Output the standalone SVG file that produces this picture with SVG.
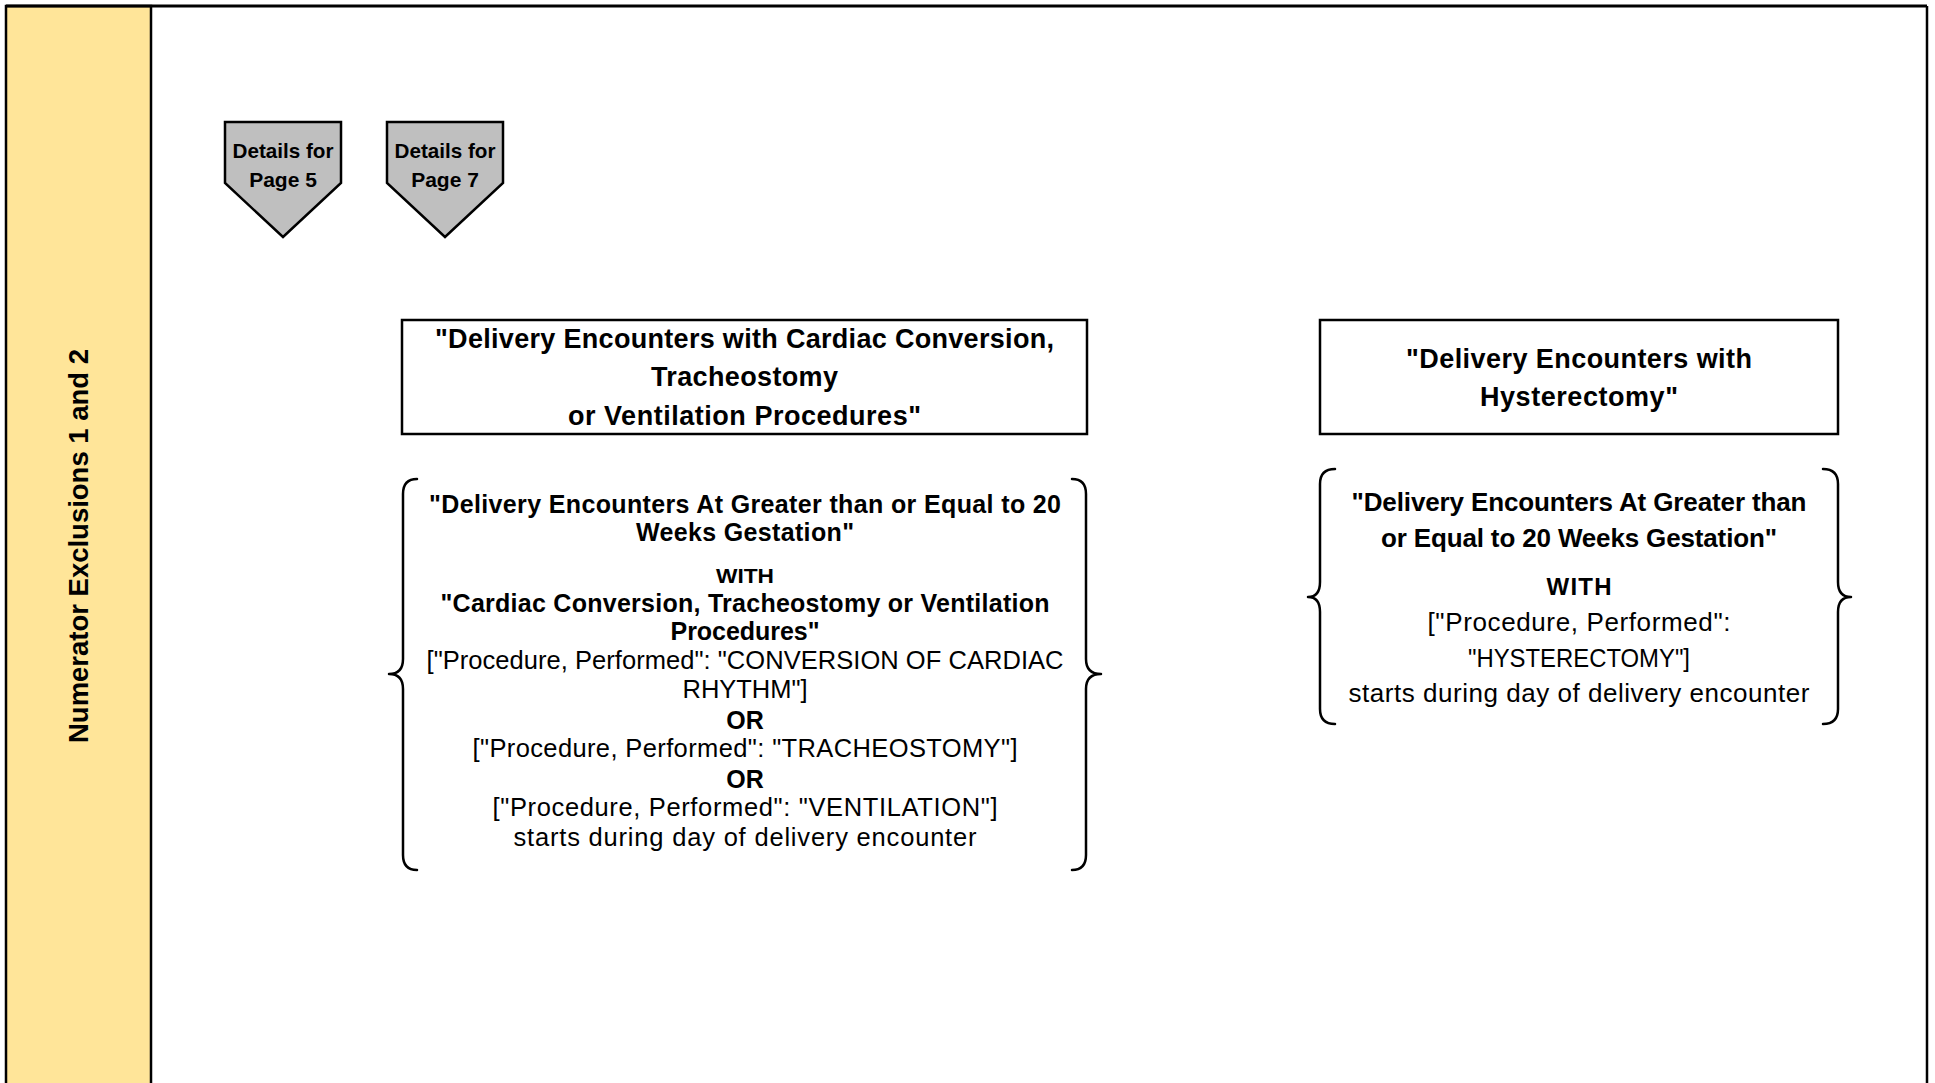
<svg xmlns="http://www.w3.org/2000/svg" width="1935" height="1083" viewBox="0 0 1935 1083">
  <style>
    .b { font-family: "Liberation Sans", Arial, sans-serif; font-weight: bold; fill: #000; text-anchor: middle; }
    .r { font-family: "Liberation Sans", Arial, sans-serif; font-weight: normal; fill: #000; text-anchor: middle; }
    .box { fill: #fff; stroke: #000; stroke-width: 2.5; }
    .brace { fill: none; stroke: #000; stroke-width: 2.5; stroke-linejoin: round; stroke-linecap: round; }
    .ref { fill: #BFBFBF; stroke: #000; stroke-width: 2.5; stroke-linejoin: miter; }
  </style>

  <rect x="0" y="0" width="1935" height="1083" fill="#fff"/>

  <!-- swimlane frame -->
  <g id="lane">
    <rect x="6" y="6" width="145" height="1085" fill="#FFE599" stroke="#000" stroke-width="2.5"/>
    <line x1="6" y1="6" x2="1927" y2="6" stroke="#000" stroke-width="3"/>
    <line x1="1927" y1="6" x2="1927" y2="1083" stroke="#000" stroke-width="2.5"/>
    <text class="b" font-size="27" textLength="394" lengthAdjust="spacingAndGlyphs" transform="translate(88 546) rotate(-90)">Numerator Exclusions 1 and 2</text>
  </g>

  <!-- off-page references -->
  <g id="ref-page5">
    <polygon class="ref" points="225,122 341,122 341,183 283,237 225,183"/>
    <text class="b" font-size="21" x="283" y="158" textLength="101" lengthAdjust="spacingAndGlyphs">Details for</text>
    <text class="b" font-size="21" x="283" y="187">Page 5</text>
  </g>
  <g id="ref-page7">
    <polygon class="ref" points="387,122 503,122 503,183 445,237 387,183"/>
    <text class="b" font-size="21" x="445" y="158" textLength="101" lengthAdjust="spacingAndGlyphs">Details for</text>
    <text class="b" font-size="21" x="445" y="187">Page 7</text>
  </g>

  <!-- definition header boxes -->
  <g id="def-cardiac">
    <rect class="box" x="402" y="320" width="685" height="114"/>
    <text class="b" font-size="27" x="744.5" y="348" textLength="619">"Delivery Encounters with Cardiac Conversion,</text>
    <text class="b" font-size="27" x="744.5" y="386" textLength="187">Tracheostomy</text>
    <text class="b" font-size="27" x="744.5" y="425" textLength="353">or Ventilation Procedures"</text>
  </g>
  <g id="def-hysterectomy">
    <rect class="box" x="1320" y="320" width="518" height="114"/>
    <text class="b" font-size="27" x="1579" y="368" textLength="346">"Delivery Encounters with</text>
    <text class="b" font-size="27" x="1579" y="406" textLength="198">Hysterectomy"</text>
  </g>

  <!-- logic blocks -->
  <g id="logic-cardiac">
    <path class="brace" d="M417,479 Q403,479 403,494 L403,659 Q403,674 389,674 Q403,674 403,689 L403,855 Q403,870 417,870"/>
    <path class="brace" d="M1072,479 Q1086,479 1086,494 L1086,659 Q1086,674 1101,674 Q1086,674 1086,689 L1086,855 Q1086,870 1072,870"/>
    <text class="b" font-size="25" x="745" y="513" textLength="632">"Delivery Encounters At Greater than or Equal to 20</text>
    <text class="b" font-size="25" x="745" y="541" textLength="218">Weeks Gestation"</text>
    <text class="b" font-size="21" x="745" y="583" textLength="58" lengthAdjust="spacingAndGlyphs">WITH</text>
    <text class="b" font-size="25" x="745" y="612" textLength="609">"Cardiac Conversion, Tracheostomy or Ventilation</text>
    <text class="b" font-size="25" x="745" y="640" textLength="149">Procedures"</text>
    <text class="r" font-size="25.5" x="745" y="669" textLength="637">["Procedure, Performed": "CONVERSION OF CARDIAC</text>
    <text class="r" font-size="25.5" x="745" y="698" textLength="125">RHYTHM"]</text>
    <text class="b" font-size="25" x="745" y="729">OR</text>
    <text class="r" font-size="25.5" x="745" y="757" textLength="545">["Procedure, Performed": "TRACHEOSTOMY"]</text>
    <text class="b" font-size="25" x="745" y="788">OR</text>
    <text class="r" font-size="25.5" x="745" y="816" textLength="505">["Procedure, Performed": "VENTILATION"]</text>
    <text class="r" font-size="25.5" x="745" y="846" textLength="463">starts during day of delivery encounter</text>
  </g>
  <g id="logic-hysterectomy">
    <path class="brace" d="M1335,469 Q1320,469 1320,484 L1320,582 Q1320,597 1308,597 Q1320,597 1320,612 L1320,709 Q1320,724 1335,724"/>
    <path class="brace" d="M1823,469 Q1838,469 1838,484 L1838,582 Q1838,597 1851,597 Q1838,597 1838,612 L1838,709 Q1838,724 1823,724"/>
    <text class="b" font-size="26" x="1579" y="511" textLength="455">"Delivery Encounters At Greater than</text>
    <text class="b" font-size="26" x="1579" y="547" textLength="396">or Equal to 20 Weeks Gestation"</text>
    <text class="b" font-size="24" x="1579" y="595" textLength="65">WITH</text>
    <text class="r" font-size="26" x="1579" y="631" textLength="303">["Procedure, Performed":</text>
    <text class="r" font-size="26" x="1579" y="667" textLength="222" lengthAdjust="spacingAndGlyphs">"HYSTERECTOMY"]</text>
    <text class="r" font-size="26" x="1579" y="702" textLength="461">starts during day of delivery encounter</text>
  </g>

  <!-- no connectors between shapes on this page -->
  <g id="connectors"></g>
</svg>
